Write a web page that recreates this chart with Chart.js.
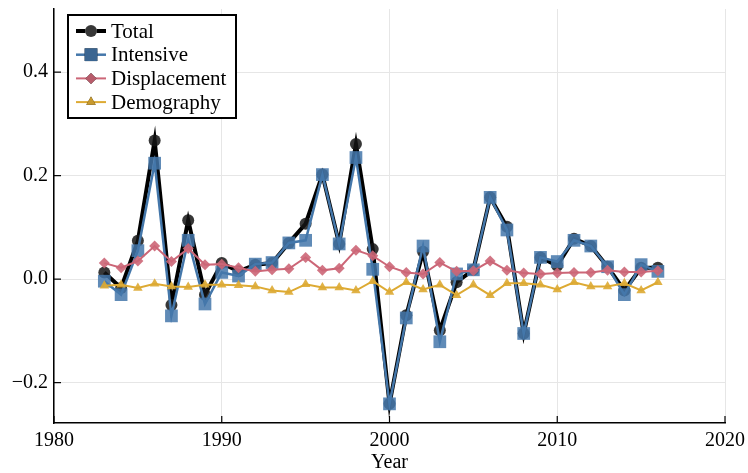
<!DOCTYPE html>
<html>
<head>
<meta charset="utf-8">
<script src="https://cdn.jsdelivr.net/npm/chart.js@4.4.1/dist/chart.umd.min.js"></script>
<style>
  html, body { margin: 0; padding: 0; background: #fff; }
  #wrap { width: 748px; height: 473px; }
</style>
</head>
<body>
<div id="wrap"><canvas id="chart" width="748" height="473"></canvas></div>
<script>
// Données
const years = [1983, 1984, 1985, 1986, 1987, 1988, 1989, 1990, 1991, 1992, 1993, 1994, 1995, 1996, 1997, 1998, 1999,
  2000, 2001, 2002, 2003, 2004, 2005, 2006, 2007, 2008, 2009, 2010, 2011, 2012, 2013, 2014, 2015, 2016];

const total = [0.013, -0.017, 0.074, 0.268, -0.050, 0.114, -0.030, 0.031, 0.015, 0.028, 0.031, 0.070, 0.107, 0.202,
  0.068, 0.261, 0.058, -0.241, -0.070, 0.053, -0.099, -0.006, 0.018, 0.158, 0.101, -0.105, 0.042, 0.026, 0.078,
  0.064, 0.024, -0.022, 0.022, 0.022];

const intensive = [-0.004, -0.030, 0.055, 0.224, -0.071, 0.075, -0.048, 0.013, 0.006, 0.029, 0.032, 0.070, 0.075,
  0.202, 0.068, 0.235, 0.019, -0.241, -0.075, 0.064, -0.121, 0.010, 0.018, 0.158, 0.095, -0.105, 0.042, 0.034,
  0.075, 0.064, 0.024, -0.030, 0.028, 0.015];

const displacement = [0.031, 0.022, 0.035, 0.064, 0.034, 0.059, 0.028, 0.029, 0.022, 0.015, 0.018, 0.020, 0.042,
  0.017, 0.021, 0.056, 0.045, 0.024, 0.013, 0.010, 0.032, 0.015, 0.016, 0.035, 0.017, 0.012, 0.010, 0.012, 0.013,
  0.013, 0.017, 0.014, 0.014, 0.016];

const demography = [-0.013, -0.011, -0.017, -0.009, -0.014, -0.015, -0.011, -0.011, -0.012, -0.014, -0.022, -0.025,
  -0.010, -0.016, -0.016, -0.022, -0.004, -0.025, -0.006, -0.020, -0.011, -0.031, -0.011, -0.031, -0.008, -0.008,
  -0.011, -0.020, -0.006, -0.014, -0.014, -0.008, -0.022, -0.006];

const xTicks = [1980, 1990, 2000, 2010, 2020];
const yTicks = [-0.2, 0.0, 0.2, 0.4];

const FONT = "'Liberation Serif', 'DejaVu Serif', serif";

function toPoints(values) {
  return values.map((v, i) => ({ x: years[i], y: v }));
}

// Petits traits de graduation tournés vers l'intérieur
const innerTicks = {
  id: 'innerTicks',
  afterDraw(chart) {
    const { ctx, chartArea, scales } = chart;
    ctx.save();
    ctx.strokeStyle = '#000';
    ctx.lineWidth = 1.2;
    yTicks.forEach(t => {
      const y = scales.y.getPixelForValue(t);
      ctx.beginPath();
      ctx.moveTo(chartArea.left, y);
      ctx.lineTo(chartArea.left + 7, y);
      ctx.stroke();
    });
    xTicks.forEach(t => {
      const x = scales.x.getPixelForValue(t);
      ctx.beginPath();
      ctx.moveTo(x, chartArea.bottom);
      ctx.lineTo(x, chartArea.bottom - 7);
      ctx.stroke();
    });
    ctx.restore();
  }
};

// Légende dessinée à l'intérieur du graphe
const insideLegend = {
  id: 'insideLegend',
  afterDraw(chart) {
    const { ctx } = chart;
    const left = 68, top = 15, w = 168, h = 103;
    ctx.save();
    ctx.fillStyle = '#fff';
    ctx.fillRect(left, top, w, h);
    ctx.strokeStyle = '#000';
    ctx.lineWidth = 2;
    ctx.strokeRect(left, top, w, h);
    ctx.font = '21px ' + FONT;
    ctx.textBaseline = 'middle';
    chart.data.datasets.forEach((ds, i) => {
      const y = top + 16 + i * 23.7;
      ctx.strokeStyle = ds.borderColor;
      ctx.lineWidth = ds.borderWidth;
      ctx.beginPath();
      ctx.moveTo(left + 8, y);
      ctx.lineTo(left + 38, y);
      ctx.stroke();
      Chart.helpers.drawPoint(ctx, {
        pointStyle: ds.pointStyle,
        radius: ds.pointRadius,
        borderWidth: 0,
        rotation: 0
      }, left + 23, y);
      ctx.fillStyle = ds.pointBackgroundColor;
      ctx.fill();
      ctx.fillStyle = '#000';
      ctx.fillText(ds.label, left + 43, y + 1);
    });
    ctx.restore();
  }
};

new Chart(document.getElementById('chart'), {
  type: 'line',
  data: {
    datasets: [
      {
        label: 'Total',
        data: toPoints(total),
        borderColor: '#000',
        borderWidth: 4,
        pointStyle: 'circle',
        pointRadius: 6,
        pointBackgroundColor: 'rgba(20,20,20,0.85)',
        pointBorderWidth: 0,
        order: 4
      },
      {
        label: 'Intensive',
        data: toPoints(intensive),
        borderColor: '#4477AA',
        borderWidth: 2.5,
        pointStyle: 'rect',
        pointRadius: 9,
        pointBackgroundColor: 'rgba(68,119,170,0.85)',
        pointBorderWidth: 0,
        order: 3
      },
      {
        label: 'Displacement',
        data: toPoints(displacement),
        borderColor: '#CC6677',
        borderWidth: 2,
        pointStyle: 'rectRot',
        pointRadius: 5.5,
        pointBackgroundColor: 'rgba(204,102,119,0.9)',
        pointBorderWidth: 0,
        order: 2
      },
      {
        label: 'Demography',
        data: toPoints(demography),
        borderColor: '#DDAA33',
        borderWidth: 2,
        pointStyle: 'triangle',
        pointRadius: 5.5,
        pointBackgroundColor: 'rgba(221,170,51,0.9)',
        pointBorderWidth: 0,
        order: 1
      }
    ]
  },
  options: {
    responsive: false,
    animation: false,
    layout: { padding: { top: 5, right: 23, left: 0, bottom: 0 } },
    plugins: {
      legend: { display: false },
      tooltip: { enabled: false }
    },
    scales: {
      x: {
        type: 'linear',
        min: 1980,
        max: 2020,
        afterBuildTicks: s => { s.ticks = xTicks.map(v => ({ value: v })); },
        afterFit: s => { s.height = 50; s.paddingLeft = 0; s.paddingRight = 0; },
        grid: { color: '#e6e6e6', lineWidth: 1, drawTicks: false },
        border: { color: '#000', width: 1.5 },
        ticks: {
          color: '#000',
          font: { family: FONT, size: 20 },
          padding: 6,
          maxRotation: 0,
          callback: v => String(v)
        },
        title: {
          display: true,
          text: 'Year',
          color: '#000',
          font: { family: FONT, size: 20 },
          padding: { top: 0, bottom: -2 }
        }
      },
      y: {
        min: -0.278,
        max: 0.522,
        afterBuildTicks: s => { s.ticks = yTicks.map(v => ({ value: v })); },
        afterFit: s => { s.width = 54; s.paddingTop = 0; s.paddingBottom = 0; },
        grid: { color: '#e6e6e6', lineWidth: 1, drawTicks: false },
        border: { color: '#000', width: 1.5 },
        ticks: {
          color: '#000',
          font: { family: FONT, size: 20 },
          padding: 6,
          callback: v => (v < 0 ? '\u2212' : '') + Math.abs(v).toFixed(1)
        }
      }
    }
  },
  plugins: [innerTicks, insideLegend]
});
</script>
</body>
</html>
